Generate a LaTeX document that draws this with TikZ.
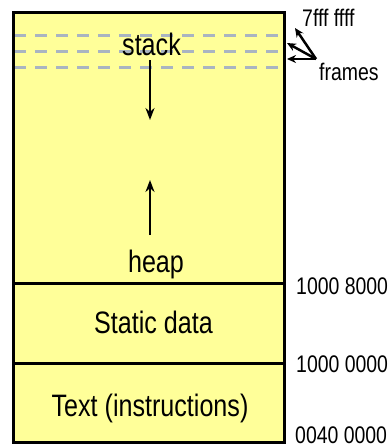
\documentclass[tikz,border=0pt]{standalone}
\usepackage{fontspec}
\setmainfont[FakeStretch=0.81]{Liberation Sans}
\usetikzlibrary{arrows.meta}
\definecolor{memfill}{RGB}{255,255,153}
\definecolor{framegray}{RGB}{169,180,193}
\begin{document}
\begin{tikzpicture}[x=1pt,y=-1pt,
  bigtxt/.style={inner sep=0pt,anchor=base,font=\fontsize{31}{36}\selectfont},
  addr/.style={inner sep=0pt,anchor=base west,font=\fontsize{24}{28}\selectfont},
  border/.style={line width=3pt,draw=black},
  framedash/.style={line width=3pt,draw=framegray,dash pattern=on 12pt off 9pt},
  growarrow/.style={line width=2.5pt,-{Stealth[length=12pt,width=9pt]}},
  framearrow/.style={line width=2.5pt,-{Stealth[length=9pt,width=8pt]}}]
\useasboundingbox (0,0) rectangle (389,447);
% memory box
\fill[memfill] (13.5,12) rectangle (284.5,442);
% frame lines
\draw[framedash] (14,35.3) -- (280,35.3);
\draw[framedash] (14,51) -- (280,51);
\draw[framedash] (14,67.3) -- (280,67.3);
\draw[border] (13.5,283.5) -- (284.5,283.5);
\draw[border] (13.5,363.3) -- (284.5,363.3);
\draw[border] (13.5,12) rectangle (284.5,442);
% texts
\node[bigtxt] (stack) at (151.5,55) {stack};
\node[bigtxt] (heap) at (156,272) {heap};
\node[bigtxt] (static) at (153.5,333) {Static data};
\node[bigtxt] (text) at (150,416) {Text (instructions)};
% growth arrows
\coordinate (sd0) at (150,60);
\coordinate (sd1) at (150,120);
\coordinate (hu0) at (150,235);
\coordinate (hu1) at (150,180);
\draw[growarrow] (sd0) -- (sd1);
\draw[growarrow] (hu0) -- (hu1);
% addresses
\node[addr] (a7) at (302,26) {7fff ffff};
\node[addr] (fr) at (319,80) {frames};
\node[addr] (a1) at (296,294) {1000 8000};
\node[addr] (a2) at (296,372) {1000 0000};
\node[addr] (a3) at (295,443) {0040 0000};
% frame arrows
\coordinate (fc) at (316,59);
\coordinate (ft1) at (295,28);
\coordinate (ft2) at (287,43);
\coordinate (ft3) at (287,59);
\draw[framearrow] (fc) -- (ft1);
\draw[framearrow] (fc) -- (ft2);
\draw[framearrow] (fc) -- (ft3);
\end{tikzpicture}
\end{document}
